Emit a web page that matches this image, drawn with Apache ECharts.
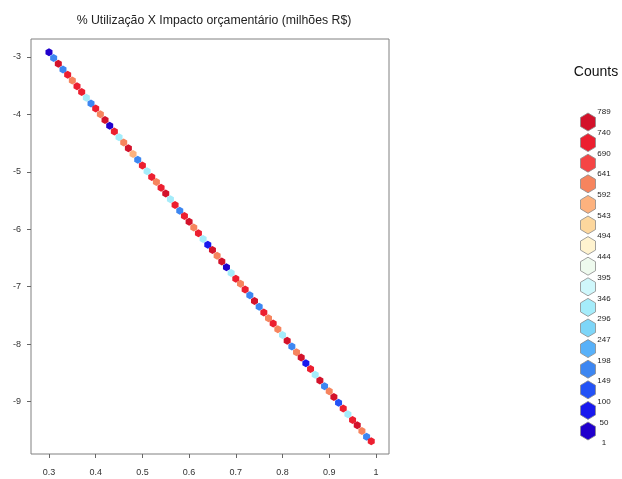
<!DOCTYPE html>
<html>
<head>
<meta charset="utf-8">
<script src="https://cdn.jsdelivr.net/npm/echarts@6/dist/echarts.min.js"></script>
<style>
  html, body { margin: 0; padding: 0; background: #fff; }
  #chart { width: 622px; height: 479px; }
</style>
</head>
<body>
<div id="chart"></div>
<script>
// hexbin cells along the diagonal (center x, center y, count)
const cellX = [0.30,0.31,0.32,0.33,0.34,0.35,0.36,0.37,0.38,0.39,
  0.40,0.41,0.42,0.43,0.44,0.45,0.46,0.47,0.48,0.49,
  0.50,0.51,0.52,0.53,0.54,0.55,0.56,0.57,0.58,0.59,
  0.60,0.61,0.62,0.63,0.64,0.65,0.66,0.67,0.68,0.69,
  0.70,0.71,0.72,0.73,0.74,0.75,0.76,0.77,0.78,0.79,
  0.80,0.81,0.82,0.83,0.84,0.85,0.86,0.87,0.88,0.89,
  0.90,0.91,0.92,0.93,0.94,0.95,0.96,0.97,0.98,0.99];
const cellY = [-2.92,-3.02,-3.12,-3.22,-3.31,-3.41,-3.51,-3.61,-3.71,-3.81,
  -3.90,-4.00,-4.10,-4.20,-4.30,-4.40,-4.49,-4.59,-4.69,-4.79,
  -4.89,-4.99,-5.09,-5.18,-5.28,-5.38,-5.48,-5.58,-5.68,-5.77,
  -5.87,-5.97,-6.07,-6.17,-6.27,-6.36,-6.46,-6.56,-6.66,-6.76,
  -6.86,-6.95,-7.05,-7.15,-7.25,-7.35,-7.45,-7.55,-7.64,-7.74,
  -7.84,-7.94,-8.04,-8.14,-8.23,-8.33,-8.43,-8.53,-8.63,-8.73,
  -8.82,-8.92,-9.02,-9.12,-9.22,-9.32,-9.41,-9.51,-9.61,-9.69];
const cellCount = [20,180,760,160,720,620,700,730,320,160,
  710,600,780,40,720,330,620,780,590,170,
  720,300,710,600,730,775,310,720,150,700,
  780,610,720,320,60,780,620,770,40,330,
  720,600,710,170,770,150,720,600,710,610,
  310,780,160,600,770,50,720,330,780,160,
  610,780,120,710,320,720,770,600,150,700];

// legend classes (bottom to top) and tick labels
const countBreaks = [1,50,100,149,198,247,296,346,395,444,494,543,592,641,690,740,789];
const classColors = ['#2000CC','#1818EE','#2352F6','#3D86F1','#58B1F9','#7ED6F8','#A5ECFA','#CFF7FB',
  '#EEFAEE','#FFF3CF','#FDD79D','#FDB27E','#F6845E','#F54545','#EC1F30','#D3122B'];

const xTicks = [0.3,0.4,0.5,0.6,0.7,0.8,0.9,1];
const yTicks = [-3,-4,-5,-6,-7,-8,-9];

const hexPath = 'path://M0,-1 L0.866,-0.5 L0.866,0.5 L0,1 L-0.866,0.5 L-0.866,-0.5 Z';
const font = '"Liberation Sans", Arial, sans-serif';

function colorFor(count) {
  for (let i = classColors.length - 1; i >= 0; i--) {
    if (count >= countBreaks[i]) return classColors[i];
  }
  return classColors[0];
}

const cells = cellX.map((x, i) => ({
  value: [x, cellY[i], cellCount[i]],
  itemStyle: { color: colorFor(cellCount[i]) }
}));

// legend: hexagons + labels at the class boundaries (top = highest)
function hexPoints(cx, cy, w, h) {
  return [[cx, cy - h / 2], [cx + w / 2, cy - h / 4], [cx + w / 2, cy + h / 4],
          [cx, cy + h / 2], [cx - w / 2, cy + h / 4], [cx - w / 2, cy - h / 4]];
}
const legendGraphics = [];
const nClass = classColors.length;
for (let k = 0; k < nClass; k++) {
  const cls = nClass - 1 - k;
  legendGraphics.push({
    type: 'polygon',
    shape: { points: hexPoints(588, 122 + k * 20.6, 15, 18) },
    style: { fill: classColors[cls], stroke: '#8a8a8a', lineWidth: 0.8 }
  });
}
for (let k = 0; k < countBreaks.length; k++) {
  legendGraphics.push({
    type: 'text',
    x: 604, y: 112 + k * 20.7,
    style: {
      text: String(countBreaks[countBreaks.length - 1 - k]),
      fill: '#222', font: '8px ' + font,
      textAlign: 'center', textVerticalAlign: 'middle'
    }
  });
}
legendGraphics.push({
  type: 'text', x: 596, y: 72,
  style: { text: 'Counts', fill: '#111', font: '14px ' + font,
           textAlign: 'center', textVerticalAlign: 'middle' }
});

const chart = echarts.init(document.getElementById('chart'));
chart.setOption({
  animation: false,
  backgroundColor: '#fff',
  title: {
    text: '% Utilização X Impacto orçamentário (milhões R$)',
    left: 209, top: 10, textAlign: 'center',
    textStyle: { fontFamily: font, fontSize: 12.3, fontWeight: 'normal', color: '#222' }
  },
  grid: {
    left: 31, right: 233, top: 39, bottom: 25,
    show: true, borderColor: '#808080', borderWidth: 1, backgroundColor: '#fff'
  },
  xAxis: {
    type: 'value', min: 0.2615, max: 1.028,
    axisLine: { show: false },
    splitLine: { show: false },
    axisTick: { show: true, length: 4, lineStyle: { color: '#666' }, customValues: xTicks },
    axisLabel: { customValues: xTicks, color: '#333', fontSize: 9, fontFamily: font, margin: 14 }
  },
  yAxis: {
    type: 'value', min: -9.91, max: -2.69,
    axisLine: { show: false },
    splitLine: { show: false },
    axisTick: { show: true, length: 4, lineStyle: { color: '#666' }, customValues: yTicks },
    axisLabel: { customValues: yTicks, color: '#333', fontSize: 9, fontFamily: font, margin: 10 }
  },
  series: [{
    type: 'scatter',
    symbol: hexPath,
    symbolSize: [7, 8],
    itemStyle: { opacity: 1 },
    data: cells
  }],
  graphic: legendGraphics
});
</script>
</body>
</html>
